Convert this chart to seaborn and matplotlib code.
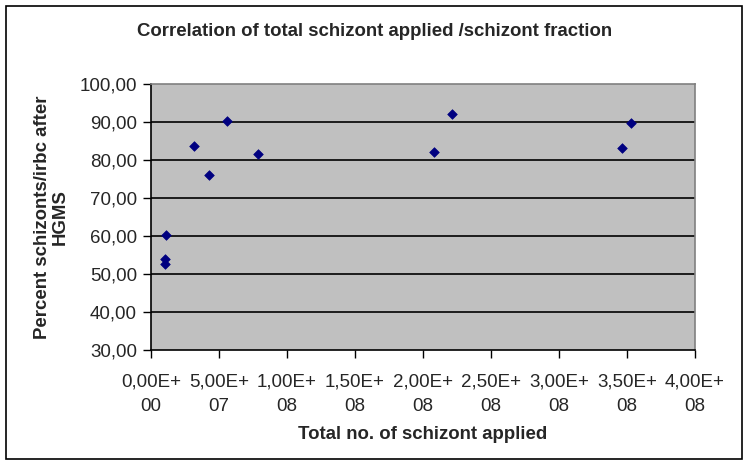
import matplotlib
matplotlib.use("Agg")
import matplotlib.pyplot as plt
from matplotlib.patches import Rectangle
from matplotlib.ticker import FuncFormatter
import pandas as pd
import seaborn as sns

# Values
schizonts_applied = [1.08e7, 1.03e7, 1.03e7, 3.18e7, 4.26e7, 5.61e7, 7.86e7,
                     2.08e8, 2.21e8, 3.46e8, 3.53e8]
percent_schizonts = [60.2, 54.0, 52.6, 83.7, 76.0, 90.3, 81.5,
                     82.1, 92.1, 83.2, 89.8]

x_ticks = [0, 5e7, 1e8, 1.5e8, 2e8, 2.5e8, 3e8, 3.5e8, 4e8]
y_ticks = [30, 40, 50, 60, 70, 80, 90, 100]

df = pd.DataFrame({'applied': schizonts_applied, 'percent': percent_schizonts})

sns.set_style("white")
plt.rcParams['font.family'] = ['Liberation Sans', 'DejaVu Sans']

fig = plt.figure(figsize=(7.48, 4.67), dpi=100)
ax = fig.add_axes([151 / 748, 1 - 350 / 467, 544 / 748, 266 / 467])

# outer chart frame
fig.patches.append(Rectangle((6 / 748, 1 - 459 / 467), 736 / 748, 453 / 467,
                             transform=fig.transFigure, fill=False,
                             edgecolor='black', linewidth=1.2))

ax.set_facecolor('#C0C0C0')
for y in y_ticks[1:-1]:
    ax.axhline(y, color='black', linewidth=1.2, zorder=1)

sns.scatterplot(data=df, x='applied', y='percent', marker='D', s=24,
                color='#000080', edgecolor='#000080', linewidth=0.5,
                ax=ax, zorder=3)

ax.set_xlim(0, 4e8)
ax.set_ylim(30, 100)
ax.set_xticks(x_ticks)
ax.set_yticks(y_ticks)


def sci_label(v, pos):
    if v == 0:
        return '0,00E+\n00'
    exp = len(str(int(v))) - 1
    mant = v / 10 ** exp
    return f'{mant:.2f}'.replace('.', ',') + f'E+\n{exp:02d}'


ax.xaxis.set_major_formatter(FuncFormatter(sci_label))
ax.yaxis.set_major_formatter(FuncFormatter(lambda v, p: f'{v:.2f}'.replace('.', ',')))

for lbl in ax.get_xticklabels():
    lbl.set_linespacing(1.55)

ax.tick_params(axis='both', which='major', direction='out', length=6,
               width=1, color='black', labelsize=13.5, pad=4,
               bottom=True, left=True)
ax.tick_params(axis='x', pad=11)

ax.spines['left'].set_color('black')
ax.spines['bottom'].set_color('black')
ax.spines['top'].set_color('#808080')
ax.spines['right'].set_color('#808080')
for s in ax.spines.values():
    s.set_linewidth(1.2)

ax.set_xlabel('Total no. of schizont applied', fontsize=13.4, fontweight='bold', labelpad=8)
ax.set_ylabel('Percent schizonts/irbc after\nHGMS', fontsize=13.4, fontweight='bold',
              labelpad=8, linespacing=1.05)

fig.text(375 / 748, 1 - 31 / 467, 'Correlation of total schizont applied /schizont fraction',
         ha='center', va='center', fontsize=13.4, fontweight='bold')

fig.savefig('out.png', dpi=100)
